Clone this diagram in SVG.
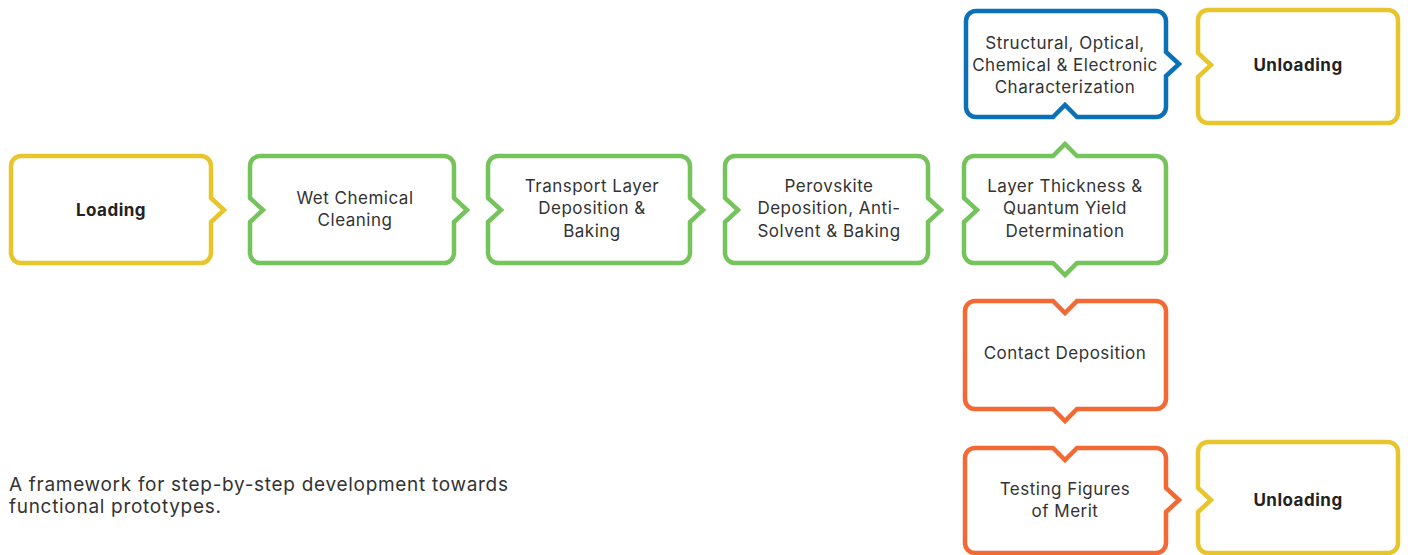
<svg xmlns="http://www.w3.org/2000/svg" width="1408" height="555" viewBox="0 0 1408 555">
<style>
.b{fill:#fff;stroke-width:4.5;stroke-linejoin:miter}
.y{stroke:#E7C52B}.g{stroke:#75C35B}.bl{stroke:#0A70B8}.o{stroke:#F26934}
text{font-family:Inter,"Liberation Sans",sans-serif;font-size:17px;letter-spacing:0.5px;fill:#333;text-anchor:middle}
.bold{font-weight:700;fill:#222}
.cap{text-anchor:start;font-size:19px;letter-spacing:0.7px}
</style>
<rect width="1408" height="555" fill="#fff"/>
<g id="connectors"/>
<g id="loading">
<path class="b y" d="M21 156H201A10 10 0 0 1 211 166V198L224 210L211 222V253A10 10 0 0 1 201 263H21A10 10 0 0 1 11 253V166A10 10 0 0 1 21 156Z"/>
<text class="bold" x="111" y="216">Loading</text>
</g>
<g id="wet">
<path class="b g" d="M260 156H444A10 10 0 0 1 454 166V198L467 210L454 222V253A10 10 0 0 1 444 263H260A10 10 0 0 1 250 253V222L263 210L250 198V166A10 10 0 0 1 260 156Z"/>
<text x="355" y="204">Wet Chemical</text>
<text x="355" y="226">Cleaning</text>
</g>
<g id="transport">
<path class="b g" d="M498 156H680A10 10 0 0 1 690 166V198L703 210L690 222V253A10 10 0 0 1 680 263H498A10 10 0 0 1 488 253V222L501 210L488 198V166A10 10 0 0 1 498 156Z"/>
<text x="592" y="192">Transport Layer</text>
<text x="592" y="214">Deposition &amp;</text>
<text x="592" y="237">Baking</text>
</g>
<g id="perovskite">
<path class="b g" d="M735 156H918A10 10 0 0 1 928 166V198L941 210L928 222V253A10 10 0 0 1 918 263H735A10 10 0 0 1 725 253V222L738 210L725 198V166A10 10 0 0 1 735 156Z"/>
<text x="829" y="192">Perovskite</text>
<text x="829" y="214">Deposition, Anti-</text>
<text x="829" y="237">Solvent &amp; Baking</text>
</g>
<g id="layer">
<path class="b g" d="M974 156H1053L1065 144L1077 156H1156A10 10 0 0 1 1166 166V253A10 10 0 0 1 1156 263H1077L1065 275L1053 263H974A10 10 0 0 1 964 253V222L977 210L964 198V166A10 10 0 0 1 974 156Z"/>
<text x="1065" y="192">Layer Thickness &amp;</text>
<text x="1065" y="214">Quantum Yield</text>
<text x="1065" y="237">Determination</text>
</g>
<g id="characterization">
<path class="b bl" d="M976 11H1156A10 10 0 0 1 1166 21V52L1179 64L1166 76V107A10 10 0 0 1 1156 117H1077L1065 105L1053 117H976A10 10 0 0 1 966 107V21A10 10 0 0 1 976 11Z"/>
<text x="1065" y="49">Structural, Optical,</text>
<text x="1065" y="71">Chemical &amp; Electronic</text>
<text x="1065" y="93">Characterization</text>
</g>
<g id="unloading1">
<path class="b y" d="M1208 10H1388A10 10 0 0 1 1398 20V113A10 10 0 0 1 1388 123H1208A10 10 0 0 1 1198 113V77L1211 65L1198 53V20A10 10 0 0 1 1208 10Z"/>
<text class="bold" x="1298" y="71">Unloading</text>
</g>
<g id="contact">
<path class="b o" d="M975 301H1053L1065 313L1077 301H1156A10 10 0 0 1 1166 311V399A10 10 0 0 1 1156 409H1077L1065 421L1053 409H975A10 10 0 0 1 965 399V311A10 10 0 0 1 975 301Z"/>
<text x="1065" y="359">Contact Deposition</text>
</g>
<g id="testing">
<path class="b o" d="M975 448H1053L1065 460L1077 448H1156A10 10 0 0 1 1166 458V488L1179 500L1166 512V543A10 10 0 0 1 1156 553H975A10 10 0 0 1 965 543V458A10 10 0 0 1 975 448Z"/>
<text x="1065" y="495">Testing Figures</text>
<text x="1065" y="517">of Merit</text>
</g>
<g id="unloading2">
<path class="b y" d="M1208 442H1388A10 10 0 0 1 1398 452V543A10 10 0 0 1 1388 553H1208A10 10 0 0 1 1198 543V512L1211 500L1198 488V452A10 10 0 0 1 1208 442Z"/>
<text class="bold" x="1298" y="506">Unloading</text>
</g>
<g id="caption">
<text class="cap" x="9" y="491">A framework for step-by-step development towards</text>
<text class="cap" x="9" y="513">functional prototypes.</text>
</g>
</svg>
